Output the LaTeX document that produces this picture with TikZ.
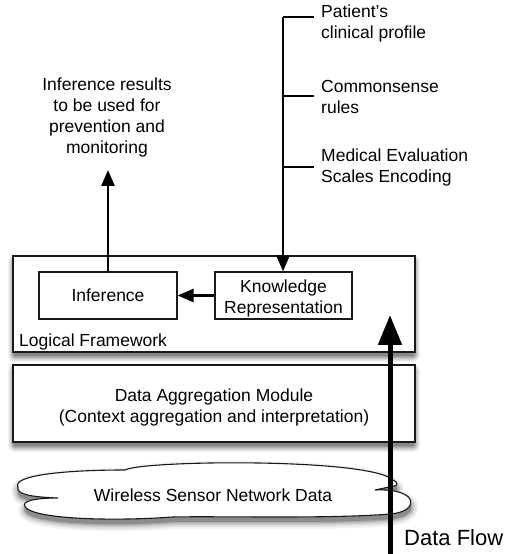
\documentclass[tikz,border=0pt]{standalone}
\usepackage{fontspec}
\setmainfont{Liberation Sans}
\usetikzlibrary{arrows.meta,calc}

% outline of the sensor network cloud
\newcommand\cloudpath{%
  (18,67) .. controls (12,78) and (60,84) .. (125,84)
  .. controls (145,94) and (370,96) .. (393,74)
  .. controls (398,72) and (398,68) .. (394,68)
  -- (375,64)
  .. controls (420,66) and (420,42) .. (390,40)
  .. controls (330,35) and (220,38) .. (172,37)
  .. controls (120,33) and (40,34) .. (26,46)
  .. controls (18,54) and (40,56) .. (58,56)
  .. controls (30,57) and (16,60) .. (18,67)
  -- cycle}

\begin{document}
\begin{tikzpicture}[x=1pt,y=1pt,
  every node/.style={font=\fontsize{17.5}{21}\selectfont},
  box/.style={draw=black!90, line width=1.1pt, fill=white, inner sep=0pt},
  flow/.style={line width=2.6pt, -{Triangle[length=16pt,width=13pt]}},
  tick/.style={line width=2.2pt},
  bigflow/.style={line width=5pt, -{Triangle[length=30pt,width=23pt]}},
  note/.style={anchor=west, align=left, inner sep=0pt}
]
\useasboundingbox (0,0) rectangle (514,554);

% soft shadow of the logical framework box: nested grey fills
\fill[black!5,  rounded corners=7pt] (8,192)  rectangle (420,299);
\fill[black!10, rounded corners=6pt] (9,193)  rectangle (419,298);
\fill[black!16, rounded corners=5pt] (10,194) rectangle (418,297);
\fill[black!23, rounded corners=4pt] (11,195) rectangle (417,296);
\fill[black!31, rounded corners=3pt] (12,196) rectangle (416,295);
\fill[black!39, rounded corners=2pt] (13,197) rectangle (415,294);
\fill[black!47, rounded corners=1pt] (14,198) rectangle (414,293);

% soft shadow of the aggregation box
\fill[black!5,  rounded corners=7pt] (8,102)  rectangle (420,190);
\fill[black!10, rounded corners=6pt] (9,103)  rectangle (419,189);
\fill[black!16, rounded corners=5pt] (10,104) rectangle (418,188);
\fill[black!23, rounded corners=4pt] (11,105) rectangle (417,187);
\fill[black!31, rounded corners=3pt] (12,106) rectangle (416,186);
\fill[black!39, rounded corners=2pt] (13,107) rectangle (415,185);
\fill[black!47, rounded corners=1pt] (14,108) rectangle (414,184);

% soft shadow of the cloud
\begin{scope}[shift={(0.5pt,-5pt)}, line join=round]
  \draw[black!5, line width=14pt] \cloudpath;
  \draw[black!12, line width=10pt] \cloudpath;
  \draw[black!22, line width=6pt] \cloudpath;
  \draw[black!34, line width=2.5pt] \cloudpath;
  \fill[black!45] \cloudpath;
\end{scope}

% logical framework container
\node[box, minimum width=402pt, minimum height=96pt] (lf) at (214,250) {};
\node[anchor=west, inner sep=0pt] (lflabel) at (19,212) {Logical Framework};

% inner modules
\node[box, minimum width=138pt, minimum height=47pt] (inf) at (108,258.5) {Inference};
\node[box, minimum width=137pt, minimum height=47pt] (kr) at (283.5,258.5) {};
\node[align=center, inner sep=0pt] (krtext) at ([yshift=-2.5pt]kr.center)
  {Knowledge\\Representation};
\draw[flow] (kr.west) -- (inf.east);

% aggregation module
\node[box, minimum width=402pt, minimum height=77pt] (da) at (214,150.5) {};
\node[align=center, inner sep=0pt] (datext) at ([yshift=-4pt]da.center)
  {Data Aggregation Module\\(Context aggregation and interpretation)};

% sensor network cloud
\path[draw=black!90, fill=white, line width=1.1pt] \cloudpath;
\node (wsn) at (213,59) {Wireless Sensor Network Data};

% knowledge sources feeding the representation
\coordinate (t1) at (283,537);
\coordinate (t2) at (283,458);
\coordinate (t3) at (283,387);
\draw[flow] (t1) -- (t1 |- kr.north);
\draw[tick] (t1) -- ++(31,0);
\draw[tick] (t2) -- ++(31,0);
\draw[tick] (t3) -- ++(31,0);
\node[note] (src1) at (321,530.5) {Patient's\\clinical profile};
\node[note] (src2) at (321,457.5) {Commonsense\\rules};
\node[note] (src3) at (321,387) {Medical Evaluation\\Scales Encoding};

% inference output
\coordinate (outtip) at (108,384);
\draw[flow] (inf.north) -- (outtip);
\node[align=center, inner sep=0pt] (out) at (107,437)
  {Inference results\\to be used for\\prevention and\\monitoring};

% data flow arrow
\coordinate (dfstart) at (390,0);
\coordinate (dfend) at (390,239);
\draw[bigflow] (dfstart) -- (dfend);
\node[anchor=west, inner sep=0pt, font=\fontsize{22}{26}\selectfont] (dflabel) at (404,16) {Data Flow};
\end{tikzpicture}
\end{document}
